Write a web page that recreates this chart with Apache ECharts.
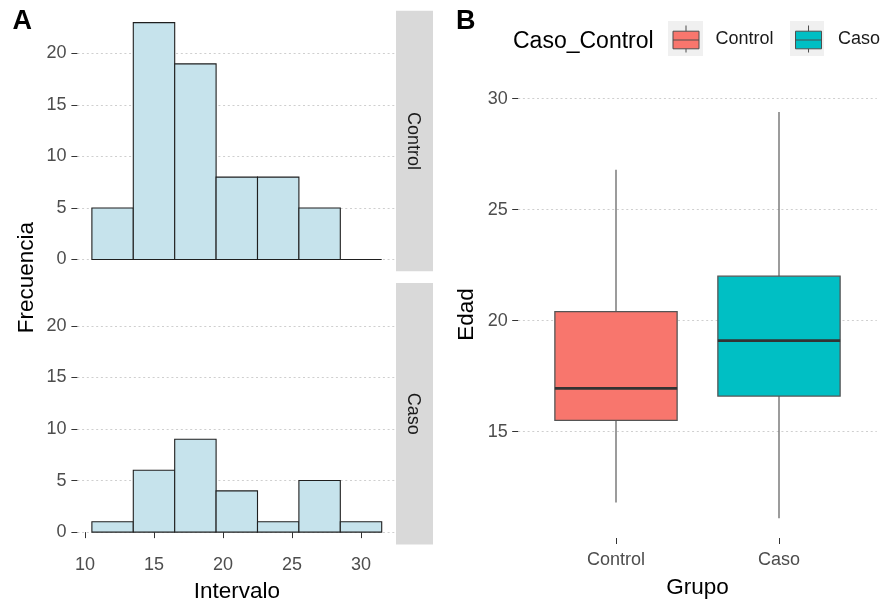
<!DOCTYPE html>
<html><head><meta charset="utf-8">
<script src="https://cdn.jsdelivr.net/npm/echarts@6/dist/echarts.min.js"></script>
<style>html,body{margin:0;padding:0;background:#fff}#c{width:883px;height:604px}</style>
</head><body><div id="c"></div>
<script>
// ---- data ----
const binStarts = [10.5, 13.5, 16.5, 19.5, 22.5, 25.5, 28.5];
const controlCounts = [5, 23, 19, 8, 8, 5, 0];
const casoCounts = [1, 6, 9, 4, 1, 5, 1];
const freqTicks = [0, 5, 10, 15, 20];
const intervalTicks = [10, 15, 20, 25, 30];
const groups = ['Control', 'Caso'];
// [min, Q1, median, Q3, max]
const controlBox = [11.8, 15.5, 16.95, 20.4, 26.8];
const casoBox = [11.1, 16.6, 19.1, 22.0, 29.4];
const edadTicks = [15, 20, 25, 30];
const BIN_W = 3;

const FONT = "'Liberation Sans', Arial, sans-serif";
const chart = echarts.init(document.getElementById('c'), null, {renderer: 'canvas'});

function histItem(params, api) {
  const x0 = api.value(0), c = api.value(1);
  const p0 = api.coord([x0, c]);
  const p1 = api.coord([x0 + BIN_W, 0]);
  if (c === 0) {
    return {type: 'line', shape: {x1: p0[0], y1: p1[1], x2: p1[0], y2: p1[1]},
      style: {stroke: '#1f1f1f', lineWidth: 1.1}};
  }
  return {type: 'rect', shape: {x: p0[0], y: p0[1], width: p1[0] - p0[0], height: p1[1] - p0[1]},
    style: {fill: '#C6E3EC', stroke: '#1f1f1f', lineWidth: 1.1}};
}
function boxItem(params, api) {
  const x = api.value(0);
  const mn = api.value(1), q1 = api.value(2), md = api.value(3), q3 = api.value(4), mx = api.value(5);
  const half = 0.375;
  const tl = api.coord([x - half, q3]), br = api.coord([x + half, q1]);
  const pMax = api.coord([x, mx]), pMin = api.coord([x, mn]);
  const pMedL = api.coord([x - half, md]), pMedR = api.coord([x + half, md]);
  const color = api.visual('color');
  return {type: 'group', children: [
    {type: 'line', shape: {x1: pMax[0], y1: pMax[1], x2: pMax[0], y2: tl[1]}, style: {stroke: '#5a5a5a', lineWidth: 1.2}},
    {type: 'line', shape: {x1: pMin[0], y1: br[1], x2: pMin[0], y2: pMin[1]}, style: {stroke: '#5a5a5a', lineWidth: 1.2}},
    {type: 'rect', shape: {x: tl[0], y: tl[1], width: br[0] - tl[0], height: br[1] - tl[1]},
      style: {fill: color, stroke: '#555', lineWidth: 1.3}},
    {type: 'line', shape: {x1: pMedL[0], y1: pMedL[1], x2: pMedR[0], y2: pMedR[1]}, style: {stroke: '#333', lineWidth: 2.8}}
  ]};
}

const tickStyle = {show: true, length: 6, lineStyle: {color: '#333', width: 1}};
const gridLine = {show: true, lineStyle: {color: '#cfcfcf', type: [2, 2.7], width: 1}};
const labelStyle = {color: '#4D4D4D', fontSize: 18, fontFamily: FONT};

function freqAxis(gi) {
  return {type: 'value', gridIndex: gi, min: -1.15, max: 24.15,
    axisLine: {show: false},
    axisTick: Object.assign({customValues: freqTicks}, tickStyle),
    axisLabel: Object.assign({customValues: freqTicks, margin: 11}, labelStyle),
    splitLine: gridLine};
}

const option = {
  animation: false,
  backgroundColor: '#fff',
  textStyle: {fontFamily: FONT},
  grid: [
    {left: 77.4, top: 10.8, width: 318.8, height: 260.5},
    {left: 77.4, top: 283, width: 318.8, height: 261.5},
    {left: 518.2, top: 91.2, width: 358.6, height: 450.4}
  ],
  xAxis: [
    {type: 'value', gridIndex: 0, min: 9.45, max: 32.55, axisLine: {show: false}, axisTick: {show: false},
      axisLabel: {show: false}, splitLine: {show: false}},
    {type: 'value', gridIndex: 1, min: 9.45, max: 32.55, axisLine: {show: false},
      axisTick: Object.assign({customValues: intervalTicks}, tickStyle),
      axisLabel: Object.assign({customValues: intervalTicks, margin: 12}, labelStyle),
      splitLine: {show: false},
      name: 'Intervalo', nameLocation: 'middle', nameGap: 36,
      nameTextStyle: {fontSize: 22.5, color: '#000', fontFamily: FONT}},
    {type: 'value', gridIndex: 2, min: 0.4, max: 2.6, axisLine: {show: false},
      axisTick: Object.assign({customValues: [1, 2]}, tickStyle),
      axisLabel: Object.assign({customValues: [1, 2], margin: 13,
        formatter: function (v) { return groups[Math.round(v) - 1] || ''; }}, labelStyle),
      splitLine: {show: false},
      name: 'Grupo', nameLocation: 'middle', nameGap: 38,
      nameTextStyle: {fontSize: 22.5, color: '#000', fontFamily: FONT}}
  ],
  yAxis: [
    freqAxis(0),
    freqAxis(1),
    {type: 'value', gridIndex: 2, min: 10.205, max: 30.335, axisLine: {show: false},
      axisTick: Object.assign({customValues: edadTicks}, tickStyle),
      axisLabel: Object.assign({customValues: edadTicks, margin: 10.5}, labelStyle),
      splitLine: gridLine,
      name: 'Edad', nameLocation: 'middle', nameGap: 40,
      nameTextStyle: {fontSize: 22.5, color: '#000', fontFamily: FONT}}
  ],
  legend: {
    data: groups, left: 668, top: 21, orient: 'horizontal', itemWidth: 35, itemHeight: 35, itemGap: 17,
    padding: 0, selectedMode: false,
    icon: 'path://M0,0M35,35M4.5,9.7L30.5,9.7L30.5,27.3L4.5,27.3ZM17.5,4L17.5,9.7M17.5,27.3L17.5,31M4.5,18.5L30.5,18.5',
    itemStyle: {borderColor: '#4D4D4D', borderWidth: 1},
    textStyle: {fontSize: 18, color: '#1A1A1A', fontFamily: FONT, padding: [0, 0, 0, 7]}
  },
  graphic: [
    {type: 'rect', z: 0, shape: {x: 668, y: 21, width: 35, height: 35}, style: {fill: '#F0F0F0'}},
    {type: 'rect', z: 0, shape: {x: 790, y: 21, width: 34, height: 35}, style: {fill: '#F0F0F0'}},
    {type: 'rect', shape: {x: 396, y: 10.8, width: 37, height: 260.5}, style: {fill: '#D9D9D9'}},
    {type: 'rect', shape: {x: 396, y: 283, width: 37, height: 261.5}, style: {fill: '#D9D9D9'}},
    {type: 'text', x: 413, y: 141, rotation: -Math.PI / 2,
      style: {text: 'Control', fontSize: 18, fontFamily: FONT, fill: '#1A1A1A', align: 'center', verticalAlign: 'middle'}},
    {type: 'text', x: 413, y: 413.7, rotation: -Math.PI / 2,
      style: {text: 'Caso', fontSize: 18, fontFamily: FONT, fill: '#1A1A1A', align: 'center', verticalAlign: 'middle'}},
    {type: 'text', x: 27, y: 277.7, rotation: Math.PI / 2,
      style: {text: 'Frecuencia', fontSize: 22.5, fontFamily: FONT, fill: '#000', align: 'center', verticalAlign: 'middle'}},
    {type: 'text', x: 12.5, y: 22,
      style: {text: 'A', fontSize: 27, fontWeight: 'bold', fontFamily: FONT, fill: '#000', align: 'left', verticalAlign: 'middle'}},
    {type: 'text', x: 456, y: 22,
      style: {text: 'B', fontSize: 27, fontWeight: 'bold', fontFamily: FONT, fill: '#000', align: 'left', verticalAlign: 'middle'}},
    {type: 'text', x: 513, y: 41.5,
      style: {text: 'Caso_Control', fontSize: 23, fontFamily: FONT, fill: '#000', align: 'left', verticalAlign: 'middle'}}
  ],
  series: [
    {type: 'custom', name: 'hist-control', xAxisIndex: 0, yAxisIndex: 0, renderItem: histItem,
      encode: {x: 0, y: 1}, data: binStarts.map((b, i) => [b, controlCounts[i]]), clip: false},
    {type: 'custom', name: 'hist-caso', xAxisIndex: 1, yAxisIndex: 1, renderItem: histItem,
      encode: {x: 0, y: 1}, data: binStarts.map((b, i) => [b, casoCounts[i]]), clip: false},
    {type: 'custom', name: 'Control', xAxisIndex: 2, yAxisIndex: 2, renderItem: boxItem,
      itemStyle: {color: '#F8766D'}, encode: {x: 0, y: [1, 2, 3, 4, 5]},
      data: [[1].concat(controlBox)]},
    {type: 'custom', name: 'Caso', xAxisIndex: 2, yAxisIndex: 2, renderItem: boxItem,
      itemStyle: {color: '#00BFC4'}, encode: {x: 0, y: [1, 2, 3, 4, 5]},
      data: [[2].concat(casoBox)]}
  ]
};
chart.setOption(option);
</script></body></html>
